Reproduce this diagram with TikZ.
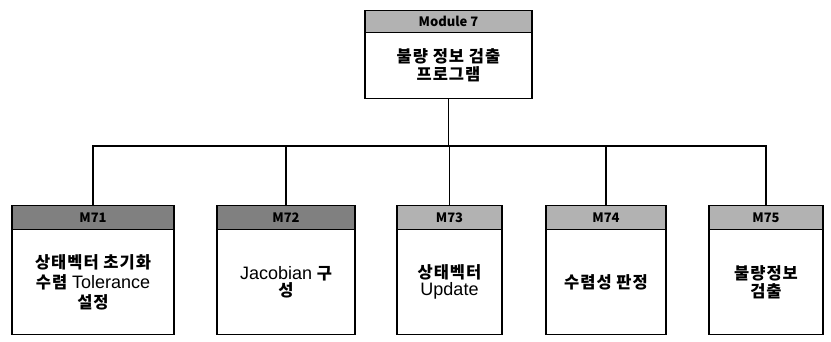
\documentclass[tikz,border=0pt]{standalone}
\usepackage{fontspec}
\setmainfont{Noto Sans CJK KR}
\newfontfamily\krfont[LetterSpace=6]{Noto Sans CJK KR}
\newfontfamily\latfont{Liberation Sans}
\newcommand{\lt}[1]{{\latfont\mdseries\fontsize{18}{18}\selectfont #1}}
\begin{document}
\begin{tikzpicture}[x=1pt,y=-1pt,
  hdr/.style={draw=black, line width=1.2pt, fill=black!30, inner sep=0pt, anchor=north,
    font=\fontsize{13}{13}\selectfont\bfseries},
  hdrdark/.style={hdr, fill=black!50},
  body/.style={draw=black, line width=1.2pt, fill=white, inner sep=2pt, anchor=north, align=center,
    font=\krfont\fontsize{16.5}{20}\selectfont\bfseries},
  conn/.style={draw=black, line width=1.1pt}]
\path[use as bounding box] (0,0) rectangle (831,341);
% top module
\node[hdr, minimum width=167pt, minimum height=22pt] (th) at (448.5,10) {Module 7};
\node[body, minimum width=167pt, minimum height=66pt, font=\krfont\fontsize{16.5}{18}\selectfont\bfseries] (tb) at (448.5,32) {불량 정보 검출\\프로그램};
% bottom modules
\node[hdrdark, minimum width=162pt, minimum height=24pt] (h1) at (93,205) {M71};
\node[body, minimum width=162pt, minimum height=105pt] (b1) at (93,229) {상태벡터 초기화\\수렴 \lt{Tolerance}\\설정};
\node[hdrdark, minimum width=138pt, minimum height=24pt] (h2) at (286,205) {M72};
\node[body, minimum width=138pt, minimum height=105pt, font=\krfont\fontsize{16.5}{17}\selectfont\bfseries] (b2) at (286,229) {\lt{Jacobian} 구\\성};
\node[hdr, minimum width=105pt, minimum height=24pt] (h3) at (449.5,205) {M73};
\node[body, minimum width=105pt, minimum height=105pt, font=\krfont\fontsize{16.5}{17}\selectfont\bfseries] (b3) at (449.5,229) {상태벡터\\\lt{Update}};
\node[hdr, minimum width=120pt, minimum height=24pt] (h4) at (606,205) {M74};
\node[body, minimum width=120pt, minimum height=105pt] (b4) at (606,229) {수렴성 판정};
\node[hdr, minimum width=114pt, minimum height=24pt] (h5) at (766,205) {M75};
\node[body, minimum width=114pt, minimum height=105pt, font=\krfont\fontsize{16.5}{18}\selectfont\bfseries] (b5) at (766,229) {불량정보\\검출};
% connectors
\coordinate (bus) at (0,146);
\draw[conn] (tb.south) -- (tb.south |- bus);
\draw[conn] (h1.north) -- (h1.north |- bus) -- (h5.north |- bus) -- (h5.north);
\draw[conn] (h2.north) -- (h2.north |- bus);
\draw[conn] (h3.north) -- (h3.north |- bus);
\draw[conn] (h4.north) -- (h4.north |- bus);
\end{tikzpicture}
\end{document}
